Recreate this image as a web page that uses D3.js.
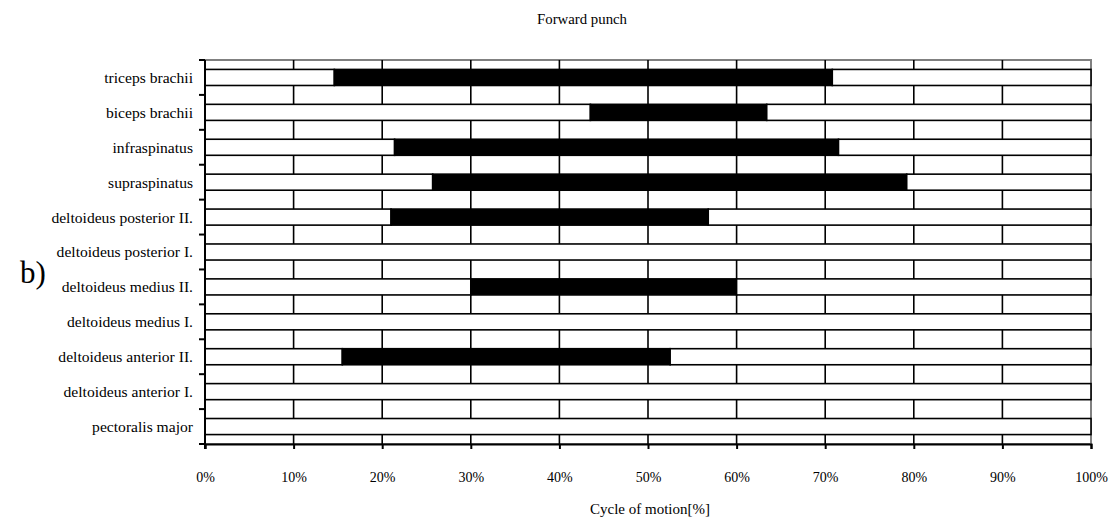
<!DOCTYPE html>
<html>
<head>
<meta charset="utf-8">
<script src="https://cdn.jsdelivr.net/npm/d3@7"></script>
<style>
  html, body { margin: 0; padding: 0; background: #fff; }
  svg text { font-family: "Liberation Serif", "Times New Roman", serif; fill: #000; }
</style>
</head>
<body>
<svg id="chart" width="1111" height="522"></svg>
<script>
// Muscles, top to bottom
const categories = [
  "triceps brachii",
  "biceps brachii",
  "infraspinatus",
  "supraspinatus",
  "deltoideus posterior II.",
  "deltoideus posterior I.",
  "deltoideus medius II.",
  "deltoideus medius I.",
  "deltoideus anterior II.",
  "deltoideus anterior I.",
  "pectoralis major"
];
// Activity onset and offset in % of the motion cycle (null = no activity)
const onset  = [14.6, 43.5, 21.4, 25.7, 21.0, null, 30.0, null, 15.5, null, null];
const offset = [70.8, 63.4, 71.5, 79.2, 56.8, null, 60.0, null, 52.5, null, null];
const xTicks = [0, 10, 20, 30, 40, 50, 60, 70, 80, 90, 100];

const svg = d3.select("#chart");
const margin = { left: 205, right: 20, top: 60, bottom: 78 };
const W = 1111, H = 522;
const x = d3.scaleLinear().domain([0, 100]).range([margin.left, W - margin.right]);
const y = d3.scaleBand().domain(categories).range([margin.top, H - margin.bottom])
  .paddingInner(0.54).paddingOuter(0.27);
const yb = d3.scaleBand().domain(categories).range([margin.top, H - margin.bottom]);

// Title
svg.append("text").attr("x", 582).attr("y", 24).attr("text-anchor", "middle")
  .style("font-size", "14.8px").text("Forward punch");

// Panel letter
svg.append("text").attr("x", 20).attr("y", 283)
  .style("font-size", "31px").text("b)");

// Plot frame
svg.append("rect")
  .attr("x", x(0)).attr("y", margin.top)
  .attr("width", x(100) - x(0)).attr("height", H - margin.bottom - margin.top)
  .attr("fill", "none").attr("stroke", "#808080").attr("stroke-width", 2);

// Vertical gridlines
svg.append("g").selectAll("line").data(xTicks.slice(1, -1)).join("line")
  .attr("x1", d => x(d)).attr("x2", d => x(d))
  .attr("y1", margin.top).attr("y2", H - margin.bottom)
  .attr("stroke", "#000").attr("stroke-width", 1.6);

// Bar segments: rest / active / rest
const segs = [];
categories.forEach((c, i) => {
  if (onset[i] == null) {
    segs.push({ c, a: 0, b: 100, on: false });
  } else {
    segs.push({ c, a: 0, b: onset[i], on: false });
    segs.push({ c, a: onset[i], b: offset[i], on: true });
    segs.push({ c, a: offset[i], b: 100, on: false });
  }
});
svg.append("g").selectAll("rect").data(segs).join("rect")
  .attr("x", d => x(d.a)).attr("width", d => x(d.b) - x(d.a))
  .attr("y", d => y(d.c)).attr("height", y.bandwidth())
  .attr("fill", d => d.on ? "#000" : "#fff")
  .attr("stroke", "#000").attr("stroke-width", 1.6);

// X axis
const xAxis = svg.append("g").attr("transform", `translate(0,${H - margin.bottom})`)
  .call(d3.axisBottom(x).tickValues(xTicks).tickFormat(d => d + "%").tickSize(5).tickPadding(23));
xAxis.select(".domain").attr("stroke", "#000").attr("stroke-width", 2);
xAxis.selectAll(".tick line").attr("stroke", "#000").attr("stroke-width", 2);
xAxis.selectAll(".tick text").style("font-size", "14px")
  .style("font-family", "'Liberation Serif', serif");

// Y axis: ticks at category boundaries
const yEdges = categories.map(c => yb(c)).concat([H - margin.bottom]);
const yAxis = svg.append("g");
yAxis.append("line").attr("x1", x(0)).attr("x2", x(0))
  .attr("y1", margin.top).attr("y2", H - margin.bottom + 5)
  .attr("stroke", "#000").attr("stroke-width", 2);
yAxis.selectAll("line.tk").data(yEdges).join("line").attr("class", "tk")
  .attr("x1", x(0) - 6).attr("x2", x(0)).attr("y1", d => d).attr("y2", d => d)
  .attr("stroke", "#000").attr("stroke-width", 2);
yAxis.selectAll("text").data(categories).join("text")
  .attr("x", x(0) - 12).attr("y", c => yb(c) + yb.bandwidth() / 2)
  .attr("dy", "0.35em").attr("text-anchor", "end")
  .style("font-size", "15.6px").text(c => c);

// X axis title
svg.append("text").attr("x", 650).attr("y", 514).attr("text-anchor", "middle")
  .style("font-size", "15px").text("Cycle of motion[%]");
</script>
</body>
</html>
